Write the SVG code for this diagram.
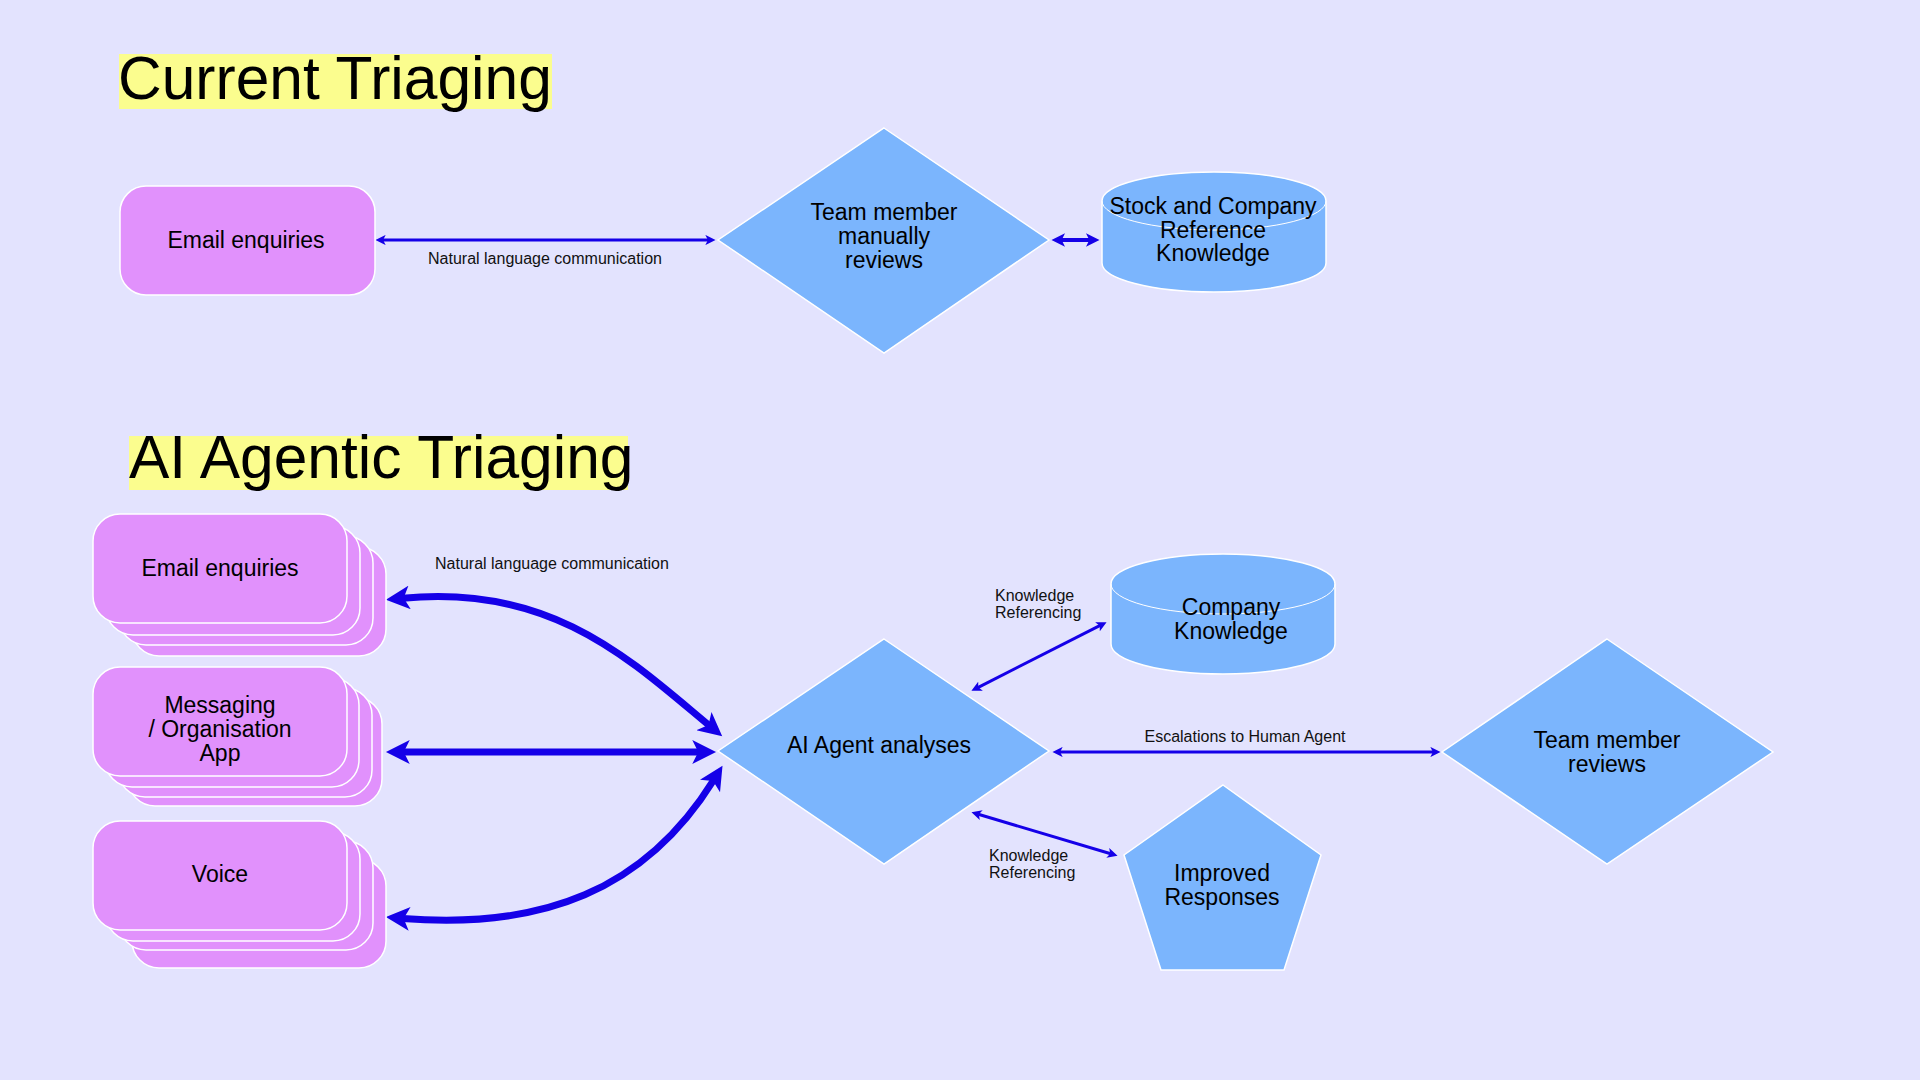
<svg xmlns="http://www.w3.org/2000/svg" width="1920" height="1080" viewBox="0 0 1920 1080">
<style>
.bg{fill:#E3E3FE}
.hl{fill:#FBFD8E}
.title{font-family:"Liberation Sans",Arial,sans-serif;font-size:60.5px;fill:#000}
.pink{fill:#E191FC;stroke:#FFFFFF;stroke-width:1.5}
.blue{fill:#7BB5FD;stroke:#FFFFFF;stroke-width:1.5}
.seam{fill:none;stroke:#FFFFFF;stroke-width:1}
.t{font-family:"Liberation Sans",Arial,sans-serif;font-size:23px;fill:#000;text-anchor:middle}
.lbl{font-family:"Liberation Sans",Arial,sans-serif;font-size:16px;fill:#111}
.c{stroke:#1500E8;fill:none;marker-start:url(#ah);marker-end:url(#ah)}
</style>
<defs>
<marker id="ah" viewBox="0 0 10 10" refX="3" refY="5" markerWidth="3.6" markerHeight="3.4" markerUnits="strokeWidth" orient="auto-start-reverse">
<path d="M0,0 L10,5 L0,10 L2.5,5 z" fill="#1500E8"/>
</marker>
</defs>
<rect class="bg" x="0" y="0" width="1920" height="1080"/>

<g id="title-current">
<rect class="hl" x="119" y="54" width="433" height="55"/>
<text class="title" x="118" y="99">Current Triaging</text>
</g>
<g id="title-ai">
<rect class="hl" x="129" y="436" width="499" height="54"/>
<text class="title" x="129" y="478">AI Agentic Triaging</text>
</g>

<g id="connectors">
<path class="c" stroke-width="3" d="M382.6,240 H708.4"/>
<path class="c" stroke-width="4" d="M1061,240 H1090"/>
<path class="c" stroke-width="7" d="M402.5,598.2 C552.5,583.2 632.4,661.7 709.4,725.7"/>
<path class="c" stroke-width="7" d="M402.6,752 H699.4"/>
<path class="c" stroke-width="7" d="M402.5,918.4 C542.5,929.6 644.8,890.5 713.7,780"/>
<path class="c" stroke-width="3" d="M977.8,687.6 L1100.2,625.4"/>
<path class="c" stroke-width="3" d="M1059.6,752 H1433.4"/>
<path class="c" stroke-width="3" d="M978.3,814.2 L1110.7,853.8"/>
<text class="lbl" x="545" y="264" text-anchor="middle">Natural language communication</text>
<text class="lbl" x="435" y="569">Natural language communication</text>
<text class="lbl" x="995" y="601">Knowledge</text>
<text class="lbl" x="995" y="618">Referencing</text>
<text class="lbl" x="1245" y="742" text-anchor="middle">Escalations to Human Agent</text>
<text class="lbl" x="989" y="861">Knowledge</text>
<text class="lbl" x="989" y="878">Referencing</text>
</g>

<g id="node-email-current">
<rect class="pink" x="120" y="186" width="255" height="109" rx="26" stroke="none"/>
<text class="t" x="246" y="248">Email enquiries</text>
</g>

<g id="node-team-manual">
<polygon class="blue" points="884,128 1049,240 884,353 718,240"/>
<text class="t" x="884" y="220">Team member</text>
<text class="t" x="884" y="244">manually</text>
<text class="t" x="884" y="268">reviews</text>
</g>

<g id="node-stock-knowledge">
<path class="blue" d="M1102,201 A112,29 0 0 1 1326,201 V263 A112,29 0 0 1 1102,263 Z"/>
<path class="seam" d="M1102,201 A112,29 0 0 0 1326,201"/>
<text class="t" x="1213" y="214">Stock and Company</text>
<text class="t" x="1213" y="238">Reference</text>
<text class="t" x="1213" y="261">Knowledge</text>
</g>

<g id="node-email-stack">
<rect class="pink" x="132" y="547" width="254" height="109" rx="27"/>
<rect class="pink" x="119" y="536" width="254" height="109" rx="27"/>
<rect class="pink" x="106" y="526" width="254" height="109" rx="27"/>
<rect class="pink" x="93" y="514" width="254" height="109" rx="27"/>
<text class="t" x="220" y="576">Email enquiries</text>
</g>

<g id="node-messaging-stack">
<rect class="pink" x="128" y="697" width="254" height="109" rx="27"/>
<rect class="pink" x="118" y="688" width="254" height="109" rx="27"/>
<rect class="pink" x="105" y="678" width="254" height="109" rx="27"/>
<rect class="pink" x="93" y="667" width="254" height="109" rx="27"/>
<text class="t" x="220" y="713">Messaging</text>
<text class="t" x="220" y="737">/ Organisation</text>
<text class="t" x="220" y="761">App</text>
</g>

<g id="node-voice-stack">
<rect class="pink" x="132" y="859" width="254" height="109" rx="27"/>
<rect class="pink" x="119" y="841" width="254" height="109" rx="27"/>
<rect class="pink" x="106" y="832" width="254" height="109" rx="27"/>
<rect class="pink" x="93" y="821" width="254" height="109" rx="27"/>
<text class="t" x="220" y="882">Voice</text>
</g>

<g id="node-ai-agent">
<polygon class="blue" points="884,639 1049,751 884,864 718,751"/>
<text class="t" x="879" y="753">AI Agent analyses</text>
</g>

<g id="node-company-knowledge">
<path class="blue" d="M1111,584 A112,30 0 0 1 1335,584 V644 A112,30 0 0 1 1111,644 Z"/>
<path class="seam" d="M1111,584 A112,30 0 0 0 1335,584"/>
<text class="t" x="1231" y="615">Company</text>
<text class="t" x="1231" y="639">Knowledge</text>
</g>

<g id="node-team-reviews">
<polygon class="blue" points="1607,639 1773,752 1607,864 1442,752"/>
<text class="t" x="1607" y="748">Team member</text>
<text class="t" x="1607" y="772">reviews</text>
</g>

<g id="node-improved">
<polygon class="blue" points="1223,785 1321,855 1284,970 1161,970 1124,855"/>
<text class="t" x="1222" y="881">Improved</text>
<text class="t" x="1222" y="905">Responses</text>
</g>
</svg>
